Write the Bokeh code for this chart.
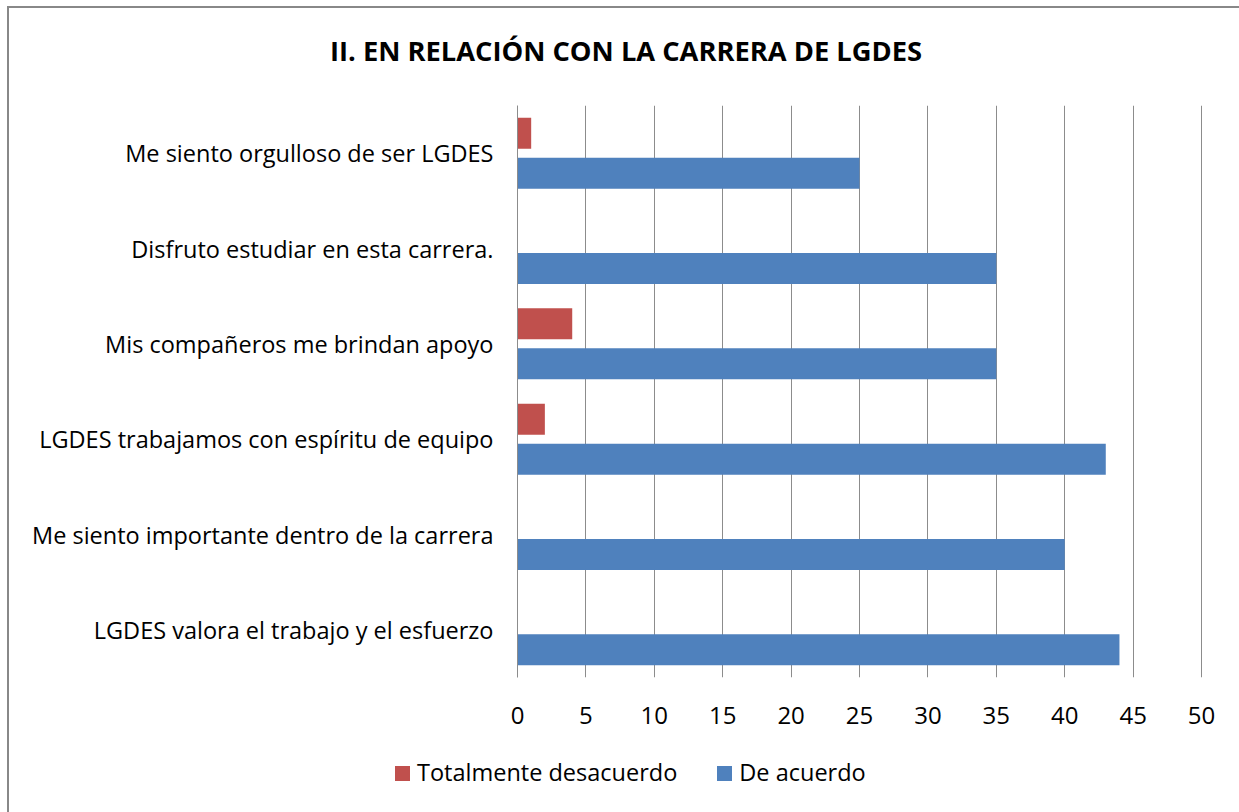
from bokeh.plotting import figure
from bokeh.layouts import column
from bokeh.models import FactorRange, Range1d, ColumnDataSource, FixedTicker, Div
from bokeh.transform import dodge
from bokeh.embed import file_html
from bokeh.resources import INLINE

categories = [
    "Me siento orgulloso de ser LGDES",
    "Disfruto estudiar en esta carrera.",
    "Mis compañeros me brindan apoyo",
    "LGDES trabajamos con espíritu de equipo",
    "Me siento importante dentro de la carrera",
    "LGDES valora el trabajo y el esfuerzo",
]
totalmente_desacuerdo = [1, 0, 4, 2, 0, 0]
de_acuerdo = [25, 35, 35, 43, 40, 44]
x_ticks = [0, 5, 10, 15, 20, 25, 30, 35, 40, 45, 50]
series_names = ["Totalmente desacuerdo", "De acuerdo"]
title_text = "II. EN RELACIÓN CON LA CARRERA DE LGDES"

RED = "#C0504D"
BLUE = "#4F81BD"
GRID = "#8C8C8C"
FONT = "Open Sans"

src = ColumnDataSource(dict(cat=categories, red=totalmente_desacuerdo, blue=de_acuerdo))

# canvas offset inside page (after frame border)
OX, OY = 9, 8
W = 1239 - OX
TITLE_END = 94                   # page y where the plot canvas starts
SPLIT = 745                      # page y where the legend strip starts
HT = TITLE_END - OY
H1, H2 = SPLIT - TITLE_END, 812 - SPLIT
FL, FR, FT, FB = 517 - OX, 1202 - OX, 105 - TITLE_END, 677 - TITLE_END

# title strip
title_div = Div(
    text=(f'<div style="display:flex;align-items:center;justify-content:center;'
          f'box-sizing:border-box;width:{W}px;height:{2 * (51 - OY)}px;padding-left:4px;'
          f'font-family:\'{FONT}\';font-weight:bold;font-size:27.3px;color:black;'
          f'white-space:nowrap;">{title_text}</div>'),
    width=W, height=HT, margin=(0, 0, 0, 0),
)

p = figure(
    width=W, height=H1,
    y_range=FactorRange(factors=list(reversed(categories))),
    x_range=Range1d(0, 50.07),
    output_backend="svg", toolbar_location=None,
    min_border_left=FL, min_border_right=W - FR,
    min_border_top=FT, min_border_bottom=H1 - FB,
)
p.outline_line_color = None
p.background_fill_color = "white"
p.border_fill_color = "white"

p.hbar(y=dodge("cat", 0.21, range=p.y_range), right="red", left=0, height=0.325,
       source=src, fill_color=RED, line_color=None)
p.hbar(y=dodge("cat", -0.21, range=p.y_range), right="blue", left=0, height=0.325,
       source=src, fill_color=BLUE, line_color=None)

# x axis
p.xaxis.ticker = FixedTicker(ticks=x_ticks)
p.xaxis.axis_line_color = None
p.xaxis.major_tick_line_color = None
p.xaxis.minor_tick_line_color = None
p.xaxis.major_label_text_font = FONT
p.xaxis.major_label_text_font_size = "24px"
p.xaxis.major_label_text_color = "black"
p.xaxis.major_label_standoff = 23

# y axis
p.yaxis.axis_line_color = GRID
p.yaxis.major_tick_line_color = None
p.yaxis.minor_tick_line_color = None
p.yaxis.major_label_text_font = FONT
p.yaxis.major_label_text_font_size = "23.5px"
p.yaxis.major_label_text_color = "black"
p.yaxis.major_label_standoff = 18

p.xgrid.grid_line_color = GRID
p.xgrid.grid_line_width = 1
p.ygrid.grid_line_color = None

# legend strip
items_html = "".join(
    f'<span style="display:inline-block;width:15px;height:15px;background:{c};'
    f'margin-right:7px;"></span><span style="margin-right:40px;">{name}</span>'
    for name, c in zip(series_names, [RED, BLUE])
)
legend_div = Div(
    text=(f'<div style="display:flex;align-items:center;height:56px;padding-left:{395 - OX}px;'
          f'font-family:\'{FONT}\';font-size:23.5px;color:black;white-space:nowrap;">'
          f'{items_html}</div>'),
    width=W, height=H2, margin=(0, 0, 0, 0),
)

layout = column(title_div, p, legend_div, spacing=0)
layout.styles = {"border-left": "2px solid #888888", "border-top": "2px solid #888888",
                 "margin-left": "7px", "margin-top": "6px", "background": "white"}

open("out.html", "w").write(file_html(layout, INLINE))
